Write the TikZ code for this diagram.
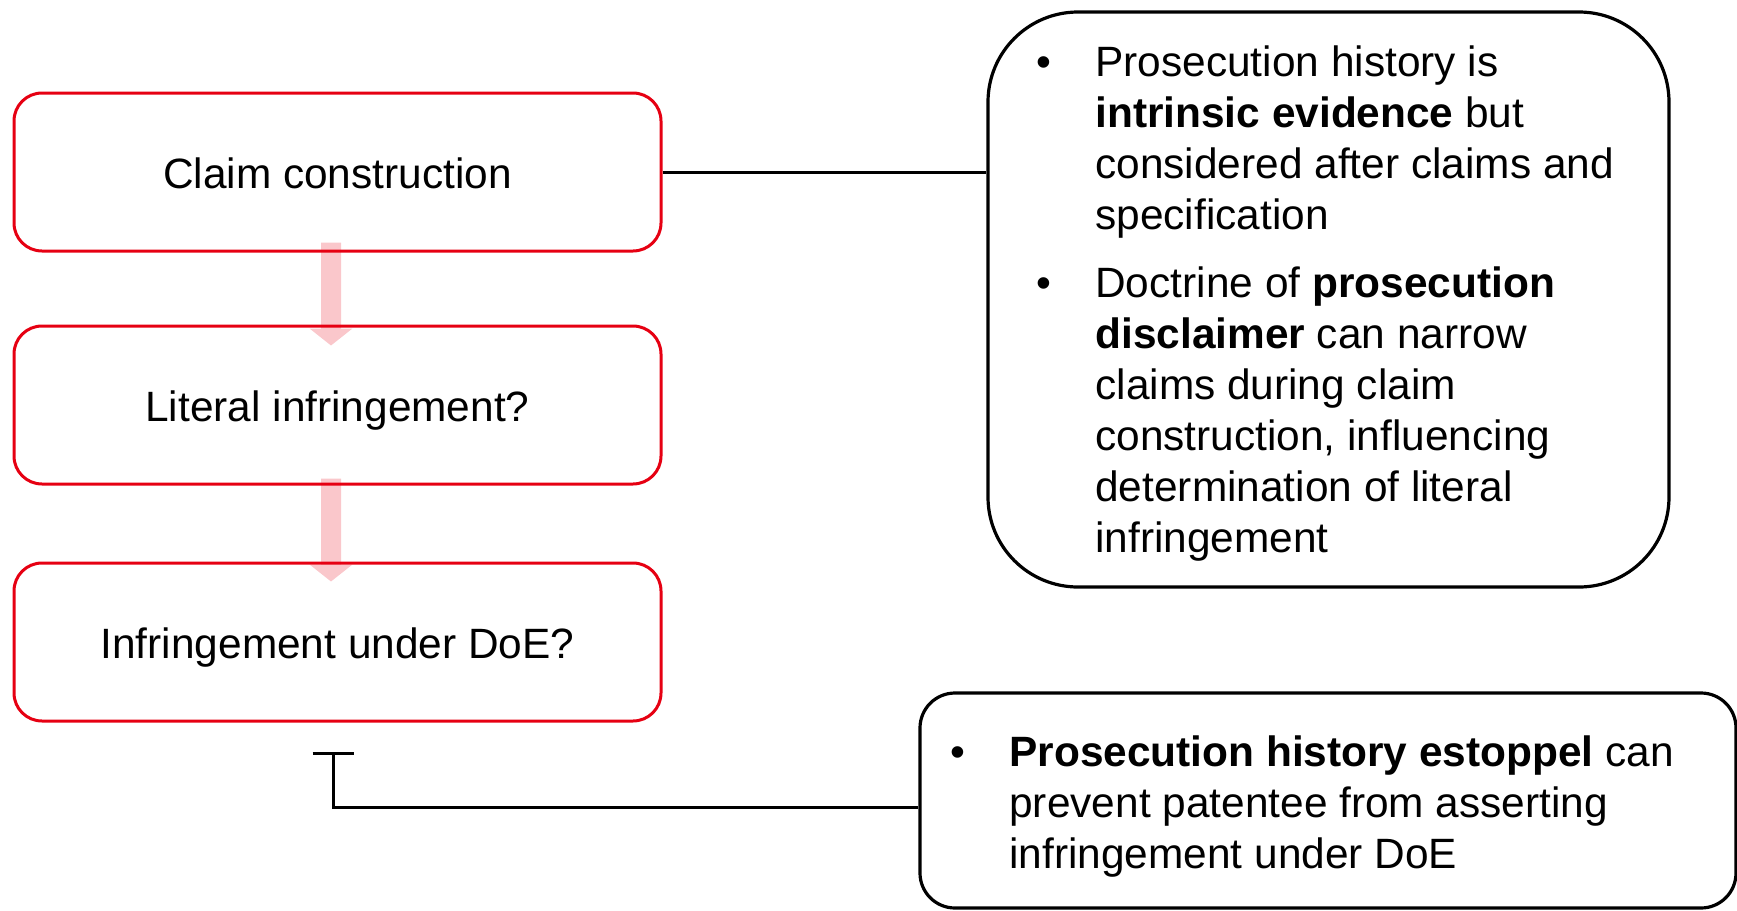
\documentclass[tikz,border=0pt]{standalone}
\usepackage{fontspec}
\setmainfont{Liberation Sans}
\usetikzlibrary{arrows.meta,calc}
\definecolor{boxred}{RGB}{230,0,18}
\tikzset{
  redbox/.style={draw=boxred, line width=1.5pt, rounded corners=14pt,
    minimum width=323.5pt, minimum height=79pt, inner sep=0pt, align=center,
    text height=16.9pt, text depth=0pt},
  notebox/.style={draw=black, line width=1.6pt, inner sep=0pt},
  notetext/.style={anchor=base west, inner sep=0pt},
  conn/.style={draw=black, line width=1.5pt},
  flowarrow/.style={draw=boxred, line width=10pt, -{Triangle[width=21pt,length=8.5pt]}},
}
\newcommand{\bulitem}[2]{\makebox[29.5pt][l]{\textbullet}\parbox[t]{#1}{\raggedright\hyphenpenalty=10000\exhyphenpenalty=10000 #2}}
\begin{document}
\begin{tikzpicture}[x=0.5pt,y=-0.5pt,font=\fontsize{21.2pt}{25.5pt}\selectfont]
\useasboundingbox (0,0) rectangle (1737,911);

% left flow boxes
\node[redbox] (b1) at (337.5,172) {Claim construction};
\node[redbox] (b2) at (337.5,405) {Literal infringement?};
\node[redbox] (b3) at (337.5,642) {Infringement under DoE?};

% pink flow arrows
\begin{scope}[transparency group, opacity=0.22]
  \draw[flowarrow] ($(b1.south)+(-6.5,-10)$) -- ($(b2.north)+(-6.5,21)$);
  \draw[flowarrow] ($(b2.south)+(-6.5,-7)$) -- ($(b3.north)+(-6.5,20)$);
\end{scope}

% right note boxes
\node[notebox, rounded corners=45pt, minimum width=340.5pt, minimum height=287.5pt] (rb1) at (1328.5,299.5) {};
\node[notetext] (t1a) at (1036,76) {\bulitem{272.5pt}{Prosecution history is \textbf{intrinsic evidence} but considered after claims and specification}};
\node[notetext] (t1b) at (1036,297) {\bulitem{272.5pt}{Doctrine of \textbf{prosecution disclaimer} can narrow claims during claim construction, influencing determination of literal infringement}};

\node[notebox, rounded corners=17.5pt, minimum width=408pt, minimum height=107.5pt] (rb2) at (1328,800.5) {};
\node[notetext] (t2) at (950,766) {\bulitem{345pt}{\textbf{Prosecution history estoppel} can prevent patentee from asserting infringement under DoE}};

% connectors
\draw[conn] (b1.east) -- (b1.east -| rb1.west);
\coordinate (tee) at (333,752);
\draw[conn, -{Bar[width=20.5pt]}] ([yshift=-3.25pt]rb2.west) -| (tee);
\end{tikzpicture}
\end{document}
